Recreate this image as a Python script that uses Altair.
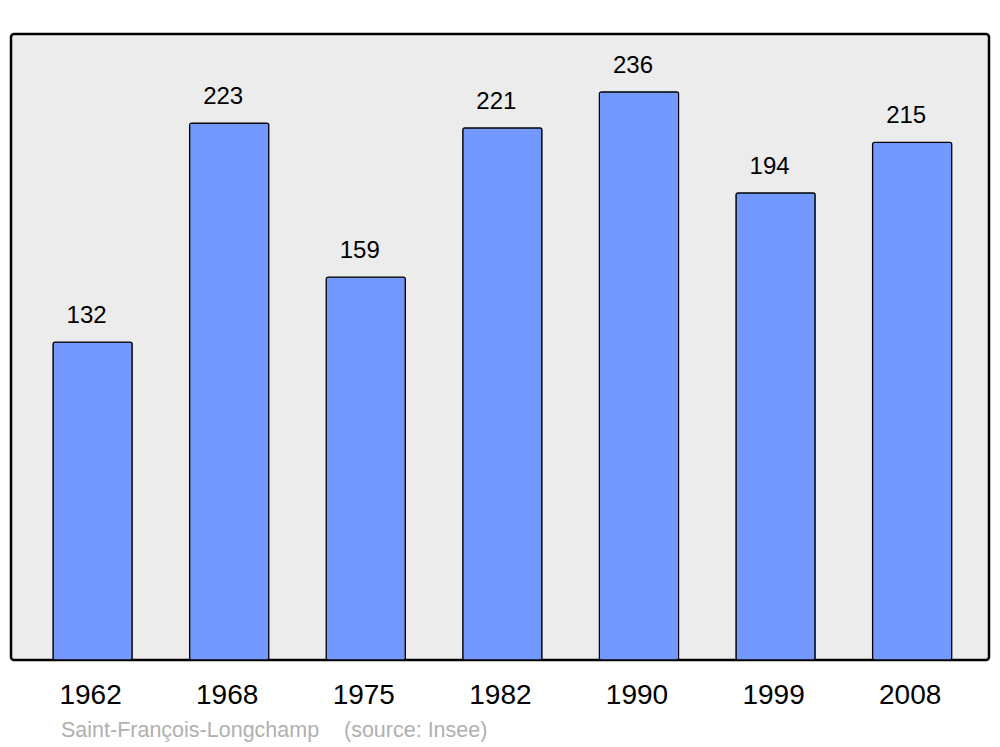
import altair as alt
import pandas as pd

years = ["1962", "1968", "1975", "1982", "1990", "1999", "2008"]
population = [132, 223, 159, 221, 236, 194, 215]
footer_place = "Saint-François-Longchamp"
footer_source = "(source: Insee)"

df = pd.DataFrame({"year": years, "pop": population})

FONT = "Liberation Sans"

x = alt.X(
    "year:N",
    sort=years,
    scale=alt.Scale(paddingInner=0.42, paddingOuter=0.29, align=0.53),
    axis=alt.Axis(
        title=None, domain=False, ticks=False, labelAngle=0,
        labelFontSize=28, labelFont=FONT, labelColor="black",
        labelPadding=21, labelOffset=-2,
    ),
)
y = alt.Y(
    "pop:Q",
    scale=alt.Scale(domain=[0, 260], nice=False),
    axis=None,
)

bars = alt.Chart(df).mark_bar(
    color="#7399ff", stroke="black", strokeWidth=1.2, cornerRadius=2
).encode(x=x, y=y)

labels = alt.Chart(df).mark_text(
    font=FONT, fontSize=24, color="black", baseline="alphabetic", dy=-19, dx=-6
).encode(x=x, y=y, text="pop:Q")

footer1 = alt.Chart(pd.DataFrame({"t": [footer_place]})).mark_text(
    font=FONT, fontSize=21.5, color="#b0b0b0", align="left", baseline="alphabetic"
).encode(x=alt.value(50), y=alt.value(703), text="t:N")

footer2 = alt.Chart(pd.DataFrame({"t": [footer_source]})).mark_text(
    font=FONT, fontSize=21.5, color="#b0b0b0", align="left", baseline="alphabetic"
).encode(x=alt.value(333), y=alt.value(703), text="t:N")

chart = alt.layer(bars, labels, footer1, footer2).properties(
    width=978, height=626,
    autosize=alt.AutoSizeParams(type="none"),
    padding={"left": 3, "top": 26, "right": 3, "bottom": 95},
    background="white",
).configure_view(
    fill="#ececec", stroke="black", strokeWidth=2.5, cornerRadius=3
)

chart.save("out.html", embed_options={"renderer": "svg", "actions": False})
